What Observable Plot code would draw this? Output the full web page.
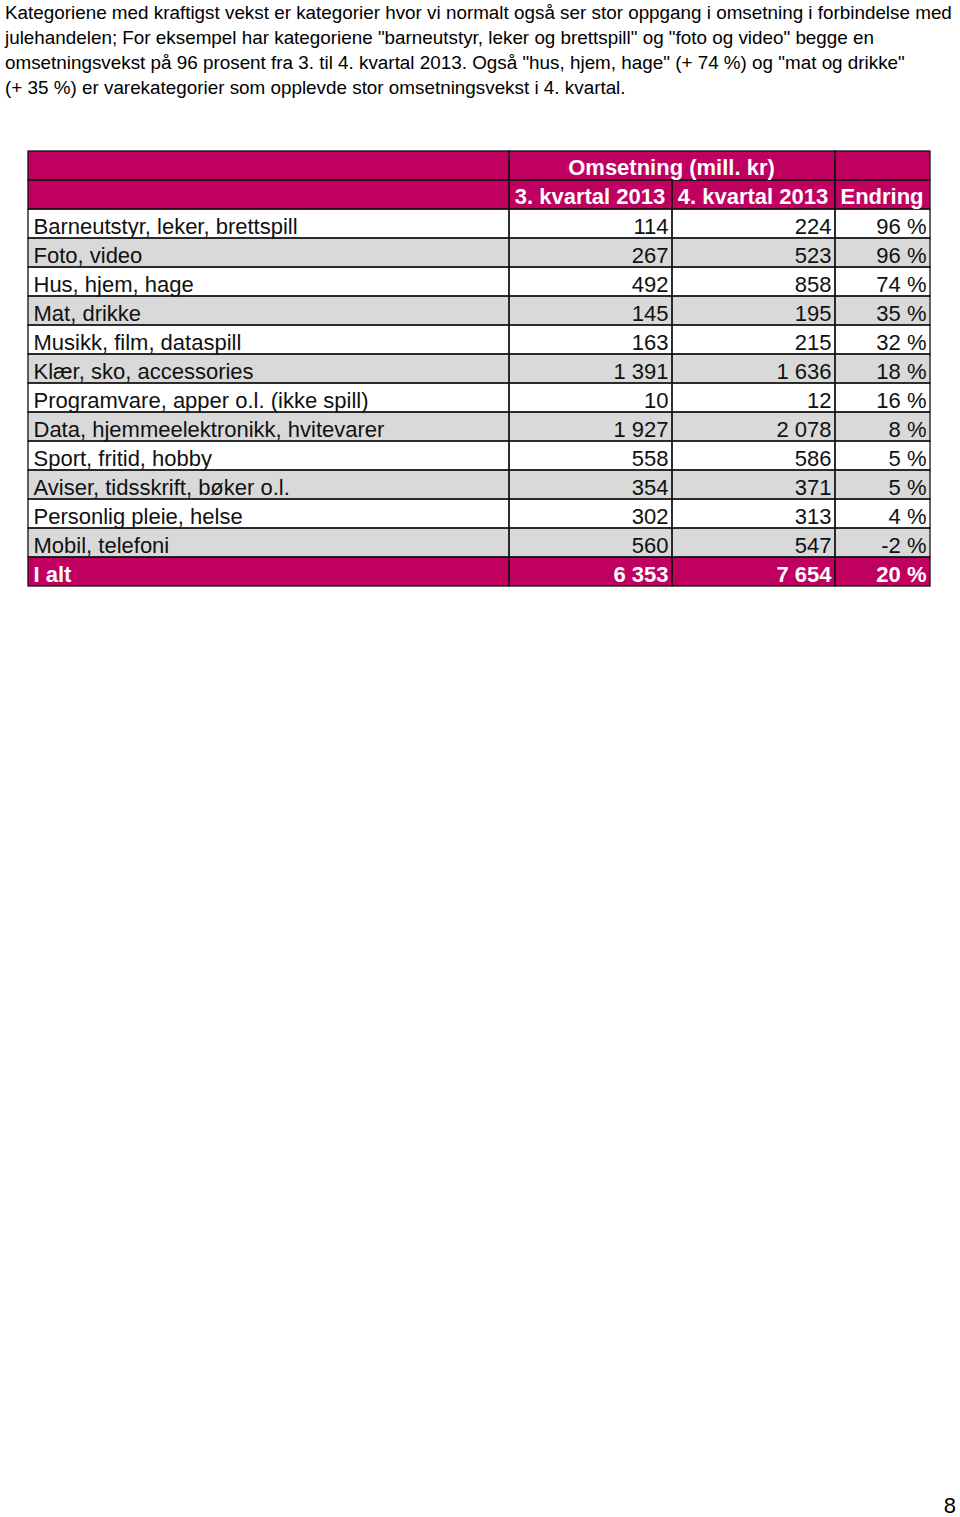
<!DOCTYPE html>
<html>
<head>
<meta charset="utf-8">
<script src="https://cdn.jsdelivr.net/npm/d3@7"></script>
<script src="https://cdn.jsdelivr.net/npm/@observablehq/plot@0.6"></script>
<style>
  html, body { margin: 0; padding: 0; background: #fff; }
  #intro { font: 18.85px/25px "Liberation Sans", Arial, sans-serif; color: #000; padding-left: 5px; height: 100px; white-space: nowrap; overflow: hidden; }
  #chart svg { display: block; }
  #pagenum { font: 22px/17px "Liberation Sans", Arial, sans-serif; height: 27px; box-sizing: border-box; padding-top: 7px; text-align: right; padding-right: 4px; color: #000; }
</style>
</head>
<body>
<div id="intro"></div>
<div id="chart"></div>
<div id="pagenum"></div>
<script>
// ---- Text ----
const introLines = [
  "Kategoriene med kraftigst vekst er kategorier hvor vi normalt også ser stor oppgang i omsetning i forbindelse med",
  "julehandelen; For eksempel har kategoriene \"barneutstyr, leker og brettspill\" og \"foto og video\" begge en",
  "omsetningsvekst på 96 prosent fra 3. til 4. kvartal 2013. Også \"hus, hjem, hage\" (+ 74 %) og \"mat og drikke\"",
  "(+ 35 %) er varekategorier som opplevde stor omsetningsvekst i 4. kvartal."
];
const pageNumber = "8";

// ---- Data ----
const headerTop = "Omsetning (mill. kr)";
const headerCols = ["3. kvartal 2013", "4. kvartal 2013", "Endring"];
const categories = [
  "Barneutstyr, leker, brettspill",
  "Foto, video",
  "Hus, hjem, hage",
  "Mat, drikke",
  "Musikk, film, dataspill",
  "Klær, sko, accessories",
  "Programvare, apper o.l. (ikke spill)",
  "Data, hjemmeelektronikk, hvitevarer",
  "Sport, fritid, hobby",
  "Aviser, tidsskrift, bøker o.l.",
  "Personlig pleie, helse",
  "Mobil, telefoni"
];
const q3 = [114, 267, 492, 145, 163, 1391, 10, 1927, 558, 354, 302, 560];
const q4 = [224, 523, 858, 195, 215, 1636, 12, 2078, 586, 371, 313, 547];
const change = [96, 96, 74, 35, 32, 18, 16, 8, 5, 5, 4, -2];
const totalLabel = "I alt";
const totalQ3 = 6353;
const totalQ4 = 7654;
const totalChange = 20;

// ---- Layout / style ----
const colEdges = [0, 481, 644, 807, 902]; // table units
const MAGENTA = "#BF0060";
const GRAY = "#D9D9D9";
const FONT = "'Liberation Sans', Arial, sans-serif";

document.getElementById("intro").innerHTML = introLines.map(l => l.replace(/&/g,"&amp;").replace(/</g,"&lt;")).join("<br>");
document.getElementById("pagenum").textContent = pageNumber;

const fmt = n => String(n).replace(/\B(?=(\d{3})+(?!\d))/g, " ");
const pct = n => `${n} %`;

const nRows = 2 + categories.length + 1;
const totalRow = nRows - 1;

// backgrounds
const bg = d3.range(nRows).map(i => ({
  i,
  fill: (i < 2 || i === totalRow) ? MAGENTA : ((i - 2) % 2 === 0 ? "#FFFFFF" : GRAY)
}));

// cell borders
const cells = [];
cells.push({i: 0, x1: colEdges[0], x2: colEdges[1]});
cells.push({i: 0, x1: colEdges[1], x2: colEdges[3]});
cells.push({i: 0, x1: colEdges[3], x2: colEdges[4]});
for (let i = 1; i < nRows; i++) {
  for (let c = 0; c < 4; c++) cells.push({i, x1: colEdges[c], x2: colEdges[c + 1]});
}

// texts
const headerTexts = [
  {i: 0, x: (colEdges[1] + colEdges[3]) / 2, t: headerTop},
  ...headerCols.map((t, k) => ({i: 1, x: (colEdges[k + 1] + colEdges[k + 2]) / 2, t}))
];
const labelTexts = categories.map((t, k) => ({i: k + 2, t}));
const numTexts = [];
categories.forEach((_, k) => {
  numTexts.push({i: k + 2, x: colEdges[2], t: fmt(q3[k])});
  numTexts.push({i: k + 2, x: colEdges[3], t: fmt(q4[k])});
  numTexts.push({i: k + 2, x: colEdges[4], t: pct(change[k])});
});
const totalNums = [
  {i: totalRow, x: colEdges[2], t: fmt(totalQ3)},
  {i: totalRow, x: colEdges[3], t: fmt(totalQ4)},
  {i: totalRow, x: colEdges[4], t: pct(totalChange)}
];

const chart = Plot.plot({
  width: 960,
  height: 1390,
  margin: 0,
  x: {domain: [0, 902], range: [28, 930], axis: null},
  y: {type: "band", domain: d3.range(nRows), range: [50, 486], padding: 0, axis: null},
  color: {type: "identity"},
  style: {fontFamily: FONT, background: "#fff"},
  marks: [
    Plot.barX(bg, {x1: 0, x2: 902, y: "i", fill: "fill"}),
    Plot.barX(cells, {x1: "x1", x2: "x2", y: "i", fill: "none", stroke: "#111", strokeWidth: 1.3}),
    Plot.text(headerTexts, {x: "x", y: "i", text: "t", fill: "#fff", fontWeight: "bold", fontSize: 22, fontFamily: FONT, textAnchor: "middle", dx: -1, dy: 2}),
    Plot.text(labelTexts, {x: colEdges[0], y: "i", text: "t", fill: "#111", fontSize: 22, fontFamily: FONT, textAnchor: "start", dx: 5, dy: 3}),
    Plot.text(numTexts, {x: "x", y: "i", text: "t", fill: "#111", fontSize: 22, fontFamily: FONT, textAnchor: "end", dx: -4, dy: 3}),
    Plot.text([{i: totalRow, t: totalLabel}], {x: colEdges[0], y: "i", text: "t", fill: "#fff", fontWeight: "bold", fontSize: 22, fontFamily: FONT, textAnchor: "start", dx: 5, dy: 3}),
    Plot.text(totalNums, {x: "x", y: "i", text: "t", fill: "#fff", fontWeight: "bold", fontSize: 22, fontFamily: FONT, textAnchor: "end", dx: -4, dy: 3})
  ]
});
document.getElementById("chart").appendChild(chart);
</script>
</body>
</html>
